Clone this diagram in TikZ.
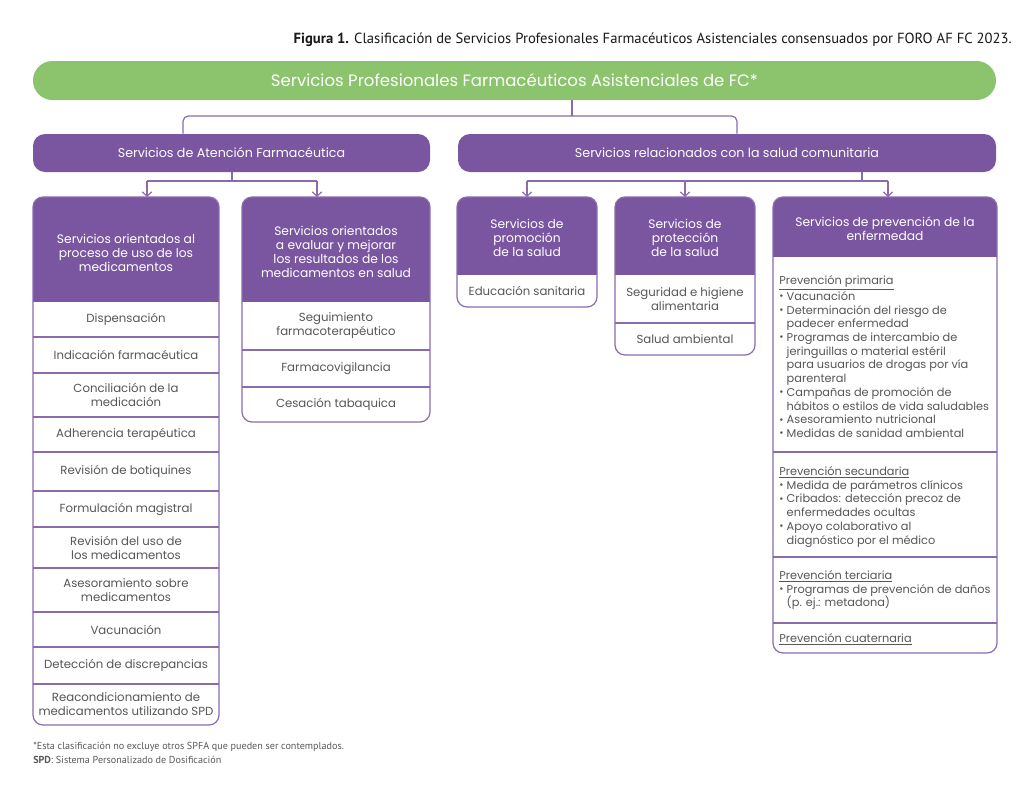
\documentclass[tikz,border=0pt]{standalone}
\usepackage{fontspec}
\setmainfont{Poppins}
\newfontfamily\capfont{PT Sans}
\usetikzlibrary{arrows.meta,fit}
\definecolor{purp}{HTML}{7A55A0}
\definecolor{purpl}{HTML}{8A6BAE}
\definecolor{grn}{HTML}{8CC46E}
\definecolor{txt}{HTML}{575757}
\newcommand\bodyfont{\fontsize{8.8}{10.5}\selectfont}
\newcommand\hdfont{\fontsize{9.2}{10.5}\selectfont}
\newcommand\efont{\fontsize{8.5}{10.28}\selectfont}
\newcommand\bul{\makebox[5.6pt][l]{\raisebox{.1ex}{\scalebox{.9}{•}}}}
\newcommand\ind{\hspace*{5.6pt}}
\newcommand\mkcolbox[6]{%
  \node[fit={(#2,#3) (#4,#5)}, inner sep=0pt, outer sep=0pt] (#1) {};
  \begin{scope}
    \clip[rounded corners=7.5pt] (#2,#3) rectangle (#4,#5);
    \fill[purp] (#2,#3) rectangle (#4,#6);
  \end{scope}
  \draw[boxline, rounded corners=7.5pt] (#1.north west) rectangle (#1.south east);
}
\begin{document}
\begin{tikzpicture}[x=0.75pt,y=-0.75pt,
  boxline/.style={draw=purpl, line width=0.9pt},
  conn/.style={draw=purpl, line width=0.9pt},
  arr/.style={conn, -{Straight Barb[length=3.2pt,width=7pt]}},
  itm/.style={text=txt, font=\bodyfont, align=center, inner sep=0pt},
  hdr/.style={text=white, font=\hdfont, align=center, inner sep=0pt},
  lvtwo/.style={fill=purp, rounded corners=9pt, inner sep=0pt},
  lvtxt/.style={text=white, font=\fontsize{9.5}{11}\selectfont, inner sep=0pt},
  sect/.style={anchor=base west, inner sep=0pt, text=txt, font=\efont}
]
\useasboundingbox[fill=white] (0,0) rectangle (1024,786);

% caption
\node[anchor=base east, inner sep=0pt, font=\capfont\fontsize{11}{12}\selectfont, text=black!90] (cap) at (1012,43)
  {\textbf{Figura 1.} Clasificación de Servicios Profesionales Farmacéuticos Asistenciales consensuados por FORO AF FC 2023.};

% level 1
\node[fill=grn, rounded corners=14.6pt, fit={(33,61) (996,100)}, inner sep=0pt] (top) {};
\node[text=white, font=\fontsize{12.4}{14}\selectfont, inner sep=0pt] (toptxt) at (top.center) {Servicios Profesionales Farmacéuticos Asistenciales de FC*};

% level 2
\node[lvtwo, fit={(33,134) (430,172)}] (sa) {};
\node[lvtxt] (satxt) at (sa.center) {Servicios de Atención Farmacéutica};
\node[lvtwo, fit={(458,134) (996,172)}] (sb) {};
\node[lvtxt] (sbtxt) at (sb.center) {Servicios relacionados con la salud comunitaria};

% connectors level1 -> level2
\coordinate (jm) at (572,116);
\coordinate (ja) at (183,134);
\coordinate (jb) at (737,134);
\draw[conn] (top.south -| jm) -- (jm);
\draw[conn, rounded corners=4pt] (sa.north -| ja) |- (jm) -| (sb.north -| jb);

% level 3 boxes
\mkcolbox{bA}{33}{197}{219}{725}{302}
\mkcolbox{bB}{242}{197}{430}{422}{302}
\mkcolbox{bC}{457}{197}{597}{307}{275}
\mkcolbox{bD}{615}{197}{755}{355}{275}
\mkcolbox{bE}{773}{197}{997}{653}{257}

% connectors level2 -> level3
\coordinate (ka) at (232,181);
\coordinate (kA) at (147,181);
\coordinate (kB) at (317,181);
\draw[conn] (sa.south -| ka) -- (ka);
\draw[conn] (kA) -- (kB);
\draw[arr] (kA) -- (kA |- bA.north);
\draw[arr] (kB) -- (kB |- bB.north);
\coordinate (kb) at (862,181);
\coordinate (kC) at (527,181);
\coordinate (kD) at (685,181);
\coordinate (kE) at (888,181);
\draw[conn] (sb.south -| kb) -- (kb);
\draw[conn] (kC) -- (kE);
\draw[arr] (kC) -- (kC |- bC.north);
\draw[arr] (kD) -- (kD |- bD.north);
\draw[arr] (kE) -- (kE |- bE.north);

% row separators
\foreach \y in {337,373,417,452,491,527,568,612,647,684} \draw[boxline] (33,\y) -- (219,\y);
\foreach \y in {350,387} \draw[boxline] (242,\y) -- (430,\y);
\draw[boxline] (615,323) -- (755,323);
\foreach \y in {452,557,623} \draw[boxline] (773,\y) -- (997,\y);

% header texts
\node[hdr] (hA) at (126,253) {Servicios orientados al\\proceso de uso de los\\medicamentos};
\node[hdr] (hB) at (336,251.5) {Servicios orientados\\a evaluar y mejorar\\los resultados de los\\medicamentos en salud};
\node[hdr] (hC) at (527,237.5) {Servicios de\\promoción\\de la salud};
\node[hdr] (hD) at (685,237.5) {Servicios de\\protección\\de la salud};
\node[hdr] (hE) at (885,229) {Servicios de prevención de la\\enfermedad};

% column A items
\node[itm] (a1) at (126,319.5) {Dispensación};
\node[itm] (a2) at (126,355) {Indicación farmacéutica};
\node[itm] (a3) at (126,395) {Conciliación de la\\medicación};
\node[itm] (a4) at (126,434.5) {Adherencia terapéutica};
\node[itm] (a5) at (126,471.5) {Revisión de botiquines};
\node[itm] (a6) at (126,509) {Formulación magistral};
\node[itm] (a7) at (126,547.5) {Revisión del uso de\\los medicamentos};
\node[itm] (a8) at (126,590) {Asesoramiento sobre\\medicamentos};
\node[itm] (a9) at (126,629.5) {Vacunación};
\node[itm] (a10) at (126,665.5) {Detección de discrepancias};
\node[itm] (a11) at (126,704.5) {Reacondicionamiento de\\medicamentos utilizando SPD};

% column B items
\node[itm] (b1) at (336,326) {Seguimiento\\farmacoterapéutico};
\node[itm] (b2) at (336,368.5) {Farmacovigilancia};
\node[itm] (b3) at (336,404.5) {Cesación tabaquica};

% column C, D items
\node[itm] (c1) at (527,291) {Educación sanitaria};
\node[itm] (d1) at (685,299) {Seguridad e higiene\\alimentaria};
\node[itm] (d2) at (685,339) {Salud ambiental};

% column E sections
\node[sect] (e1) at (779,284.5) {\parbox[t]{168pt}{\raggedright
\underline{Prevención primaria}\\
\bul Vacunación\\
\bul Determinación del riesgo de\\
\ind padecer enfermedad\\
\bul Programas de intercambio de\\
\ind jeringuillas o material estéril\\
\ind para usuarios de drogas por vía\\
\ind parenteral\\
\bul Campañas de promoción de\\
\ind hábitos o estilos de vida saludables\\
\bul Asesoramiento nutricional\\
\bul Medidas de sanidad ambiental}};
\node[sect] (e2) at (779,475.5) {\parbox[t]{168pt}{\raggedright
\underline{Prevención secundaria}\\
\bul Medida de parámetros clínicos\\
\bul Cribados: detección precoz de\\
\ind enfermedades ocultas\\
\bul Apoyo colaborativo al\\
\ind diagnóstico por el médico}};
\node[sect] (e3) at (779,579.5) {\parbox[t]{168pt}{\raggedright
\underline{Prevención terciaria}\\
\bul Programas de prevención de daños\\
\ind (p. ej.: metadona)}};
\node[sect] (e4) at (779,642.5) {\underline{Prevención cuaternaria}};

% footnote
\node[anchor=base west, inner sep=0pt, font=\capfont\fontsize{7.6}{9}\selectfont, text=black!65] (fn1) at (33,749)
  {*Esta clasificación no excluye otros SPFA que pueden ser contemplados.};
\node[anchor=base west, inner sep=0pt, font=\capfont\fontsize{7.6}{9}\selectfont, text=black!65] (fn2) at (33,763)
  {\textbf{SPD}: Sistema Personalizado de Dosificación};
\end{tikzpicture}
\end{document}
